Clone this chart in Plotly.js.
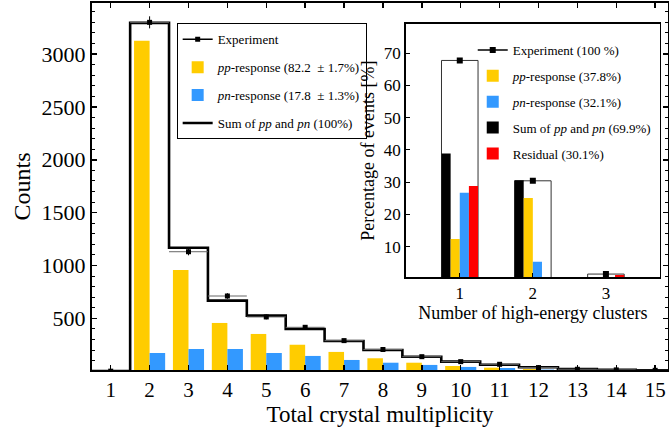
<!DOCTYPE html>
<html>
<head>
<meta charset="utf-8">
<script src="https://cdn.plot.ly/plotly-3.0.1.min.js"></script>
<style>html,body{margin:0;padding:0;background:#fff;}</style>
</head>
<body>
<div id="chart" style="width:669px;height:427px;"></div>
<script>
// ---- Main chart data: total crystal multiplicity ----
const multiplicity = [1,2,3,4,5,6,7,8,9,10,11,12,13,14,15];
const ppCounts   = [0,3126,957,456,352,250,182,122,80,49,33,20,10,5,3];
const pnCounts   = [0,172,210,210,172,144,106,80,59,40,30,15,8,4,2];
const sumCounts  = [0,3295,1168,667,525,399,286,200,137,90,60,37,21,12,8];
const expCounts  = [0,3300,1130,711,513,415,289,205,137,90,65,34,18,12,8];
const expErrors  = [0,57,34,27,23,20,17,14,12,9,8,6,4,3,3];

// ---- Inset data: number of high-energy clusters ----
const clusters      = [1,2,3];
const expPct        = [67.7,30.4,1.5];
const ppPct         = [12.4,25.1,0.3];
const pnPct         = [26.7,5.3,0.1];
const sumPct        = [38.9,30.6,0.4];
const residualPct   = [28.8,0,1.2];

const FONT = "Liberation Serif, Times New Roman, serif";
const YELLOW = "#FFCC00", BLUE = "#3399FF", RED = "#FF0000";

// separate points with nulls so a line+marker trace draws only markers
function isolate(a){ const r=[]; a.forEach((v,i)=>{ if(i) r.push(null); r.push(v); }); return r; }
// step outline from bin contents
const stepX = multiplicity.map(c => c - 0.5).concat([multiplicity[multiplicity.length-1] + 0.5]);
const stepY = sumCounts.concat([sumCounts[sumCounts.length-1]]);

const traces = [
  {type:'bar', x:multiplicity, y:ppCounts, name:'<i>pp</i>-response (82.2 &nbsp;± 1.7%)',
   marker:{color:YELLOW, line:{width:0}}, legend:'legend', legendgroup:'m2', legendrank:2, hoverinfo:'skip'},
  {type:'bar', x:multiplicity, y:pnCounts, name:'<i>pn</i>-response (17.8 &nbsp;± 1.3%)',
   marker:{color:BLUE, line:{width:0}}, legend:'legend', legendgroup:'m3', legendrank:3, hoverinfo:'skip'},
  {type:'scatter', mode:'lines', x:stepX, y:stepY, line:{shape:'hv', color:'#000', width:2.6},
   name:'Sum of <i>pp</i> and <i>pn</i> (100%)', legend:'legend', legendgroup:'m4', legendrank:4, hoverinfo:'skip'},
  {type:'scatter', mode:'lines+markers', x:isolate(multiplicity), y:isolate(expCounts), connectgaps:false,
   line:{color:'#000', width:1.5}, marker:{symbol:'square', size:5, color:'#000'},
   error_y:{type:'data', array:isolate(expErrors), color:'#000', thickness:1, width:0},
   error_x:{type:'constant', value:0.5, color:'#666', thickness:1, width:0},
   name:'Experiment', legend:'legend', legendgroup:'m1', legendrank:1, hoverinfo:'skip'},

  // inset
  {type:'bar', x:clusters, y:expPct, width:0.5, offset:-0.25, xaxis:'x2', yaxis:'y2',
   marker:{color:'rgba(255,255,255,0)', line:{color:'#333', width:1}}, showlegend:false, hoverinfo:'skip'},
  {type:'bar', x:clusters, y:sumPct, width:0.125, offset:-0.25, xaxis:'x2', yaxis:'y2',
   marker:{color:'#000', line:{width:0}}, name:'Sum of <i>pp</i> and <i>pn</i> (69.9%)',
   legend:'legend2', legendgroup:'i4', legendrank:4, hoverinfo:'skip'},
  {type:'bar', x:clusters, y:ppPct, width:0.125, offset:-0.125, xaxis:'x2', yaxis:'y2',
   marker:{color:YELLOW, line:{width:0}}, name:'<i>pp</i>-response (37.8%)',
   legend:'legend2', legendgroup:'i2', legendrank:2, hoverinfo:'skip'},
  {type:'bar', x:clusters, y:pnPct, width:0.125, offset:0, xaxis:'x2', yaxis:'y2',
   marker:{color:BLUE, line:{width:0}}, name:'<i>pn</i>-response (32.1%)',
   legend:'legend2', legendgroup:'i3', legendrank:3, hoverinfo:'skip'},
  {type:'bar', x:clusters, y:residualPct, width:0.125, offset:0.125, xaxis:'x2', yaxis:'y2',
   marker:{color:RED, line:{width:0}}, name:'Residual (30.1%)',
   legend:'legend2', legendgroup:'i5', legendrank:5, hoverinfo:'skip'},
  {type:'scatter', mode:'lines+markers', x:isolate(clusters), y:isolate(expPct), connectgaps:false,
   xaxis:'x2', yaxis:'y2', line:{color:'#000', width:1.5}, marker:{symbol:'square', size:6, color:'#000'},
   name:'Experiment (100 %)', legend:'legend2', legendgroup:'i1', legendrank:1, hoverinfo:'skip'}
];

const axisCommon = {showgrid:false, zeroline:false, showline:true, linecolor:'#000', ticks:'inside', tickcolor:'#000'};

const layout = {
  width:669, height:427,
  margin:{l:92, r:1, t:3, b:57},
  paper_bgcolor:'#fff', plot_bgcolor:'#fff',
  font:{family:FONT, color:'#000'},
  barmode:'group', bargap:0.2, bargroupgap:0,
  xaxis:Object.assign({}, axisCommon, {
    domain:[0,1], range:[0.519,15.33], tickmode:'array', tickvals:multiplicity,
    linewidth:2, ticklen:5, tickwidth:1.5, mirror:'ticks',
    tickfont:{size:21}, title:{text:'Total crystal multiplicity', font:{size:23}, standoff:7}
  }),
  yaxis:Object.assign({}, axisCommon, {
    domain:[0,1], range:[11,3483], tick0:0, dtick:500,
    linewidth:2, ticklen:5, tickwidth:1.5, mirror:'ticks',
    minor:{dtick:100, ticks:'inside', ticklen:3, tickwidth:1, tickcolor:'#000'},
    tickfont:{size:22}, title:{text:'Counts', font:{size:24}, standoff:4}
  }),
  xaxis2:Object.assign({}, axisCommon, {
    domain:[0.5446,0.9861], anchor:'y2', range:[0.26,3.74], tickmode:'array', tickvals:clusters,
    linewidth:1.5, ticklen:4, tickwidth:1, mirror:true,
    tickfont:{size:17}, title:{text:'Number of high-energy clusters', font:{size:18}, standoff:2}
  }),
  yaxis2:Object.assign({}, axisCommon, {
    domain:[0.2526,0.9428], anchor:'x2', range:[0.5,79], tick0:0, dtick:10,
    linewidth:1.5, ticklen:4, tickwidth:1, mirror:true,
    tickfont:{size:17}, title:{text:'Percentage of events [%]', font:{size:18}, standoff:4}
  }),
  legend:{x:0.147, y:0.9447, xanchor:'left', yanchor:'top', bgcolor:'#fff', bordercolor:'#000', borderwidth:1,
    font:{size:13, family:FONT}, traceorder:'grouped', tracegroupgap:8},
  legend2:{x:0.661, y:0.913, xanchor:'left', yanchor:'top', bgcolor:'rgba(0,0,0,0)', borderwidth:0,
    font:{size:13, family:FONT}, traceorder:'grouped', tracegroupgap:6},
  showlegend:true
};

Plotly.newPlot('chart', traces, layout, {staticPlot:true, displayModeBar:false});
</script>
</body>
</html>
